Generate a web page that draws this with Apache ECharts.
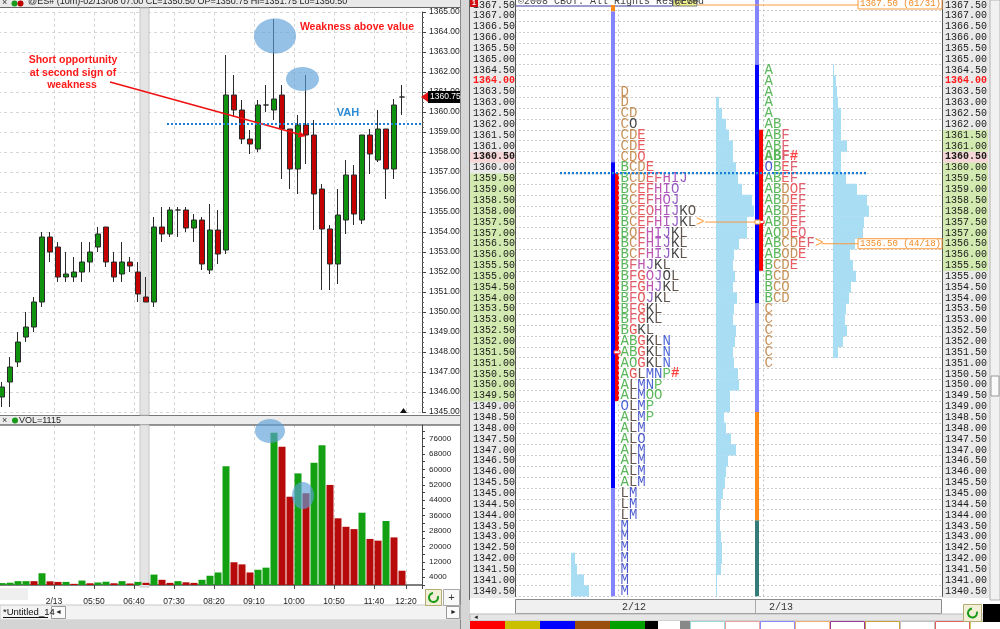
<!DOCTYPE html>
<html>
<head>
<meta charset="utf-8">
<script src="https://cdn.jsdelivr.net/npm/echarts@6/dist/echarts.min.js"></script>
<style>
html,body{margin:0;padding:0;background:#ffffff;overflow:hidden;}
#c{width:1000px;height:629px;}
</style>
</head>
<body>
<div id="c"></div>
<script>
// ================= DATA =================
// 10-minute bars, 2/13/08
const times = ['04:00','04:10','04:20','04:30','04:40','04:50','05:00','05:10','05:20','05:30','05:40','05:50',
  '06:00','06:10','06:20','06:30','06:40','06:50','07:00','07:10','07:20','07:30','07:40','07:50',
  '08:00','08:10','08:20','08:30','08:40','08:50','09:00','09:10','09:20','09:30','09:40','09:50',
  '10:00','10:10','10:20','10:30','10:40','10:50','11:00','11:10','11:20','11:30','11:40','11:50',
  '12:00','12:10','12:20'];
const tickTimes = ['05:00','05:50','06:40','07:30','08:20','09:10','10:00','10:50','11:40','12:20'];
const tickTexts = ['2/13','05:50','06:40','07:30','08:20','09:10','10:00','10:50','11:40','12:20'];

const opens  = [1345.75,1346.5,1347.5,1348.75,1349.25,1350.5,1353.75,1353.25,1351.75,1351.75,1352.0,1352.5,1353.25,1354.25,1352.5,1351.9,1352.5,1352.0,1350.75,1350.5,1354.25,1353.9,1355.1,1355.1,1354.2,1354.6,1352.1,1354.1,1353.1,1360.85,1360.1,1358.65,1358.15,1360.35,1360.1,1360.85,1359.15,1357.15,1359.35,1358.85,1356.15,1354.15,1352.4,1354.6,1356.85,1354.6,1358.85,1357.6,1359.15,1357.15,1360.75];
const closes = [1346.25,1347.25,1348.5,1349.25,1350.5,1353.75,1353.0,1351.75,1351.9,1352.0,1352.5,1353.0,1353.9,1352.5,1351.75,1352.5,1352.3,1350.9,1350.5,1354.25,1353.9,1355.1,1355.1,1354.2,1354.6,1352.4,1354.1,1352.9,1360.85,1360.1,1358.65,1358.4,1360.35,1360.35,1360.65,1359.15,1357.15,1359.35,1358.85,1355.9,1354.15,1352.4,1354.85,1356.85,1354.9,1358.85,1357.9,1359.15,1357.15,1360.35,1360.75];
const lows   = [1345.25,1345.25,1347.25,1348.5,1349.0,1350.25,1352.5,1351.5,1351.5,1351.5,1351.5,1352.0,1353.0,1352.25,1351.5,1351.5,1352.0,1350.5,1350.5,1350.25,1353.5,1353.75,1353.75,1354.0,1353.5,1352.1,1351.9,1352.4,1352.9,1359.75,1358.4,1357.9,1358.0,1360.0,1359.6,1356.65,1356.15,1355.9,1357.4,1354.1,1351.1,1351.1,1351.4,1353.9,1354.35,1354.4,1356.9,1357.5,1355.65,1356.65,1359.85];
const highs  = [1346.5,1347.75,1349.0,1350.0,1350.75,1354.0,1354.0,1353.5,1353.0,1352.75,1353.5,1353.5,1354.25,1354.25,1353.0,1353.5,1352.75,1352.5,1351.75,1354.75,1355.25,1355.25,1355.25,1355.25,1354.9,1354.75,1355.4,1355.1,1362.85,1361.85,1360.6,1359.1,1360.6,1361.35,1364.65,1361.35,1359.15,1359.85,1361.85,1359.6,1356.4,1354.35,1356.15,1357.6,1357.35,1358.85,1359.15,1360.1,1359.15,1360.65,1361.35];
const volumes = [1000,1200,2000,2000,2000,6100,1900,1600,1600,600,2300,900,1300,1700,900,2000,800,1600,1115,5400,
  2700,1100,2000,1400,1100,2700,4800,6500,61600,11800,10700,6500,7900,9000,79000,71700,45800,57900,47600,63400,
  72500,51900,34600,30200,29000,37500,23900,23000,33200,24700,7400];
const volumeUp = [1,1,1,1,0,1,0,0,1,0,1,0,1,1,0,1,0,1,0,1,0,0,1,0,0,1,1,1,1,0,0,0,1,1,1,0,0,1,0,1,1,0,0,0,0,1,0,0,1,0,0];
const cursorIndex = 18;
const vahLeft = 1359.4;

// ---- market profile ----
const rowPrices = ['1340.50','1341.00','1341.50','1342.00','1342.50','1343.00','1343.50','1344.00','1344.50','1345.00',
  '1345.50','1346.00','1346.50','1347.00','1347.50','1348.00','1348.50','1349.00','1349.50','1350.00',
  '1350.50','1351.00','1351.50','1352.00','1352.50','1353.00','1353.50','1354.00','1354.50','1355.00',
  '1355.50','1356.00','1356.50','1357.00','1357.50','1358.00','1358.50','1359.00','1359.50','1360.00',
  '1360.50','1361.00','1361.50','1362.00','1362.50','1363.00','1363.50','1364.00','1364.50','1365.00',
  '1365.50','1366.00','1366.50','1367.00','1367.50'];
// lowercase letter = opening "O" of that period
const tpo212 = [[1363.5,'D'],[1363.0,'D'],[1362.5,'CD'],[1362.0,'Ck'],[1361.5,'CDE'],[1361.0,'CDE'],[1360.5,'CDe'],
  [1360.0,'BCDE'],[1359.5,'BCDEFHIJ'],[1359.0,'BCEFHIj'],[1358.5,'BCEFHiJ'],[1358.0,'BCEfHIJKl'],[1357.5,'BCEFHIJKL>'],
  [1357.0,'BcFHIJKL'],[1356.5,'BCFHIJKL'],[1356.0,'BCFHIJKL'],[1355.5,'BFHJKL'],[1355.0,'BFGhJkL'],[1354.5,'BFGHJKL'],
  [1354.0,'BFgJKL'],[1353.5,'BFGKL'],[1353.0,'BFGKL'],[1352.5,'BGKL'],[1352.0,'ABGKLN'],[1351.5,'ABGKLN'],[1351.0,'AbGKLN'],
  [1350.5,'AGLMNP#'],[1350.0,'ALMNP'],[1349.5,'ALMOO'],[1349.0,'nLMP'],[1348.5,'ALMP'],[1348.0,'ALM'],[1347.5,'ALm'],
  [1347.0,'ALM'],[1346.5,'ALM'],[1346.0,'ALM'],[1345.5,'ALM'],[1345.0,'LM'],[1344.5,'LM'],[1344.0,'LM'],[1343.5,'M'],
  [1343.0,'M'],[1342.5,'M'],[1342.0,'M'],[1341.5,'M'],[1341.0,'M'],[1340.5,'M']];
const tpo213 = [[1364.5,'A'],[1364.0,'A'],[1363.5,'A'],[1363.0,'A'],[1362.5,'A'],[1362.0,'AB'],[1361.5,'ABF'],[1361.0,'ABF'],
  [1360.5,'ABF#'],[1360.0,'mBEF'],[1359.5,'ABEF'],[1359.0,'ABDeF'],[1358.5,'ABDEF'],[1358.0,'ABDEF'],[1357.5,'ABDEF'],
  [1357.0,'AbDEf'],[1356.5,'ABCDEF>'],[1356.0,'ABcDE'],[1355.5,'BCDE'],[1355.0,'BCD'],[1354.5,'BCd'],[1354.0,'BCD'],
  [1353.5,'C'],[1353.0,'C'],[1352.5,'C'],[1352.0,'C'],[1351.5,'C'],[1351.0,'C']];
const hist212 = [[1363.0,3],[1362.5,6],[1362.0,10],[1361.5,13],[1361.0,17],[1360.5,17],[1360.0,20],[1359.5,22],[1359.0,26],
  [1358.5,36],[1358.0,38],[1357.5,31],[1357.0,31],[1356.5,23],[1356.0,18],[1355.5,17],[1355.0,19],[1354.5,17],[1354.0,21],
  [1353.5,18],[1353.0,17],[1352.5,20],[1352.0,19],[1351.5,17],[1351.0,18],[1350.5,22],[1350.0,23],[1349.5,14],[1349.0,14],
  [1348.5,8],[1348.0,10],[1347.5,15],[1347.0,20],[1346.5,12],[1346.0,10],[1345.5,9],[1345.0,7],[1344.5,5],[1344.0,4],
  [1343.5,4],[1343.0,5],[1342.5,6],[1342.0,6],[1341.5,5],[1341.0,1],[1340.5,1]];
const hist213 = [[1364.5,1],[1364.0,3],[1363.5,4],[1363.0,5],[1362.5,8],[1362.0,8],[1361.5,8],[1361.0,14],[1360.5,8],
  [1360.0,8],[1359.5,13],[1359.0,24],[1358.5,34],[1358.0,36],[1357.5,31],[1357.0,30],[1356.5,22],[1356.0,17],[1355.5,20],
  [1355.0,23],[1354.5,18],[1354.0,16],[1353.5,13],[1353.0,12],[1352.5,14],[1352.0,10],[1351.5,5]];
const histPrev = [[1342.0,4],[1341.5,6],[1341.0,13],[1340.5,18]];
const dayRange212 = [[1367.5,1367.2],[1367.2,1360.25],[1360.25,1345.25],[1345.25,1340.25]];
const dayRange213 = [[1367.75,1364.75],[1364.75,1353.75],[1353.75,1348.75],[1348.75,1343.75],[1343.75,1340.25]];
const valueArea212 = [1349.5,1359.5];
const valueArea213 = [1355.5,1361.5];
const openMark212 = 1351.5, openMark213 = 1357.5;
const currentRow = 1360.5, highlightRow = 1364.0;
const vahRight = 1359.75;
const poc212 = 1357.5, poc213 = 1356.5, refHigh = 1367.5;
const pocLabel213 = '1356.50 (44/18)', refLabel = '1367.50 (01/31)';
const dayLabels = ['2/12','2/13'];

// ================= STYLE / LAYOUT =================
const rangeColors212 = ['#ff8c1a','#8484ff','#0000ff','#8484ff'];
const rangeColors213 = ['#8484ff','#0000ff','#8484ff','#ff8c1a','#357b79'];
const periodColors = {A:'#2fa52f',B:'#2fa52f',C:'#b8742c',D:'#b8742c',E:'#e5343c',F:'#d83a4c',G:'#e02828',H:'#b0309e',
  I:'#9a30b0',J:'#7c34b4',K:'#141414',L:'#3b2c22',M:'#2233c4',N:'#2040cc',O:'#2fa52f',P:'#3fae3f'};
const col212 = {bar:96, va:100, letters:105, hist:201, vline:103};
const col213 = {bar:240, va:244, letters:249, hist:318, vline:248};
const colPrev = {hist:56};
const mono = 'Liberation Mono';
const sans = 'Liberation Sans';
const histColor = '#a8ddf3';

const xCats = times.concat(['','']);
const splitFn = function(idx){ return idx > 0 && tickTimes.indexOf(xCats[idx-1]) >= 0; };
const labelFn = function(idx, val){ return tickTimes.indexOf(val) >= 0; };

const tpoRich = {};
Object.keys(periodColors).forEach(function(k){
  tpoRich[k] = {color:periodColors[k], fontFamily:mono, fontSize:14};
  tpoRich[k+'b'] = {color:periodColors[k], fontFamily:mono, fontSize:14, fontWeight:'bold'};
});
tpoRich.hash = {color:'#ff1010', fontFamily:mono, fontSize:14, fontWeight:'bold'};
tpoRich.arr = {color:'#ff8c1a', fontFamily:mono, fontSize:14};
function richify(s, bold){
  const b = bold ? 'b' : '';
  let out = '';
  for (const ch of s){
    if (ch === '#') out += '{hash|#}';
    else if (ch === '>') out += '{arr|>}';
    else if (ch >= 'a' && ch <= 'z') out += '{' + ch.toUpperCase() + b + '|O}';
    else out += '{' + ch + b + '|' + ch + '}';
  }
  return out;
}

const cellBase = {fontFamily:mono, fontSize:10, color:'#1a1a1a', width:43, height:11, lineHeight:11, padding:[0,0,0,2]};
const axisRich = {
  n: Object.assign({}, cellBase, {backgroundColor:'#e9e9e9'}),
  g: Object.assign({}, cellBase, {backgroundColor:'#d2eab0'}),
  p: Object.assign({}, cellBase, {backgroundColor:'#f6d6d6', fontWeight:'bold'}),
  r: Object.assign({}, cellBase, {backgroundColor:'#e9e9e9', color:'#ff1a1a', fontWeight:'bold'})
};
function axisFmt(va){
  return function(v){
    const p = parseFloat(v);
    let k = 'n';
    if (p === currentRow) k = 'p';
    else if (p >= va[0] && p <= va[1]) k = 'g';
    else if (p === highlightRow) k = 'r';
    return '{' + k + '|' + v + '}';
  };
}

function rectFrom(api, x0, x1, pHi, pLo){
  const a = api.coord([x0, pHi]);
  const b = api.coord([x1, pLo]);
  return {x:a[0], y:a[1], width:b[0]-a[0], height:b[1]-a[1]};
}
function histSeries(data, x0){
  return {type:'custom', xAxisIndex:2, yAxisIndex:4, clip:true, silent:true, data:data, z:2,
    renderItem:function(params, api){
      const p = api.value(0), w = api.value(1);
      return {type:'rect', shape:rectFrom(api, x0, x0 + w, p + 0.26, p - 0.26), style:{fill:histColor}};
    }};
}
function rangeSeries(data, x0, colors){
  return {type:'custom', xAxisIndex:2, yAxisIndex:4, clip:true, silent:true, data:data, z:3,
    renderItem:function(params, api){
      return {type:'rect', shape:rectFrom(api, x0, x0 + 4, api.value(0), api.value(1)), style:{fill:colors[params.dataIndex]}};
    }};
}
function vaSeries(va, x0, openMark){
  return {type:'custom', xAxisIndex:2, yAxisIndex:4, clip:true, silent:true, data:[[va[0], va[1], openMark]], z:4,
    renderItem:function(params, api){
      const lo = api.value(0), hi = api.value(1), om = api.value(2);
      return {type:'group', children:[
        {type:'rect', shape:rectFrom(api, x0, x0 + 4, hi + 0.25, lo - 0.25), style:{fill:'#ff0000'}},
        {type:'rect', shape:rectFrom(api, x0 - 1, x0 + 5, om + 0.07, om - 0.07), style:{fill:'#ffffff', stroke:'#ff2020', lineWidth:1}}
      ]};
    }};
}
function tpoSeries(rows, x0, boldPrice){
  return {type:'scatter', xAxisIndex:2, yAxisIndex:4, symbolSize:1, silent:true, z:5,
    itemStyle:{color:'rgba(0,0,0,0)'},
    data: rows.map(function(r){ return [x0, r[0], r[1]]; }),
    label:{show:true, position:'right', distance:0, fontFamily:mono, fontSize:14,
      formatter:function(p){ return richify(p.data[2], p.data[1] === boldPrice); }, rich:tpoRich}};
}
function hLine(x0, x1, price, color, width, dash){
  return {type:'line', xAxisIndex:2, yAxisIndex:4, silent:true, symbol:'none', z:6,
    data:[[x0, price],[x1, price]], lineStyle:{color:color, width:width, type:dash || 'solid'}};
}

const chart = echarts.init(document.getElementById('c'), null, {renderer:'canvas', width:1000, height:629});

const option = {
  animation:false,
  backgroundColor:'#ffffff',
  grid:[
    {left:-2, top:12, width:424, height:400, outerBoundsMode:'none'},
    {left:-2, top:425, width:424, height:160, outerBoundsMode:'none'},
    {left:515, top:-0.43, width:427, height:596.85, outerBoundsMode:'none'}
  ],
  xAxis:[
    {type:'category', gridIndex:0, data:xCats, boundaryGap:true,
      axisLine:{show:false}, axisTick:{show:false}, axisLabel:{show:false},
      splitLine:{show:true, interval:splitFn, lineStyle:{color:'#d6d6d6', type:[3,3]}}},
    {type:'category', gridIndex:1, data:xCats, boundaryGap:true,
      axisLine:{show:true, lineStyle:{color:'#555', width:1.5}},
      axisTick:{show:true, interval:splitFn, length:4, lineStyle:{color:'#444'}},
      axisLabel:{interval:labelFn, fontSize:8.5, fontFamily:sans, color:'#222', margin:12, padding:[0,0,0,8],
        formatter:function(v){ const i = tickTimes.indexOf(v); return i >= 0 ? tickTexts[i] : ''; }},
      splitLine:{show:true, interval:splitFn, lineStyle:{color:'#d6d6d6', type:[3,3]}}},
    {type:'value', gridIndex:2, min:0, max:427, show:false}
  ],
  yAxis:[
    {type:'value', gridIndex:0, position:'right', min:1345, max:1365, interval:1,
      axisLine:{show:true, lineStyle:{color:'#444'}},
      axisTick:{show:true, length:4, lineStyle:{color:'#444'}},
      minorTick:{show:true, splitNumber:4, length:2, lineStyle:{color:'#666'}},
      axisLabel:{fontSize:8.5, fontFamily:sans, color:'#222', margin:7, formatter:function(v){ return v.toFixed(2); }},
      splitLine:{show:true, lineStyle:{color:'#d6d6d6', type:[3,3]}}},
    {type:'value', gridIndex:1, position:'right', min:0, max:83000, interval:4000,
      axisLine:{show:true, lineStyle:{color:'#444'}},
      axisTick:{show:true, length:3, lineStyle:{color:'#444'}},
      axisLabel:{fontSize:8, fontFamily:sans, color:'#222', margin:7, showMaxLabel:false,
        formatter:function(v){ return (Math.round(v/4000) % 2 === 1) ? String(v) : ''; }},
      splitLine:{show:false}},
    {type:'category', gridIndex:2, position:'left', data:rowPrices, boundaryGap:true,
      axisLine:{show:true, lineStyle:{color:'#555'}}, axisTick:{show:false},
      axisLabel:{interval:0, margin:0, formatter:axisFmt(valueArea212), rich:axisRich},
      splitLine:{show:true, interval:0, lineStyle:{color:'#cdcdcd', type:[2,2]}}},
    {type:'category', gridIndex:2, position:'right', data:rowPrices, boundaryGap:true,
      axisLine:{show:true, lineStyle:{color:'#555'}}, axisTick:{show:false},
      axisLabel:{interval:0, margin:1, formatter:axisFmt(valueArea213), rich:axisRich},
      splitLine:{show:false}},
    {type:'value', gridIndex:2, min:1340.25, max:1367.75, show:false}
  ],
  series:[
    {type:'candlestick', xAxisIndex:0, yAxisIndex:0, barWidth:6, z:3,
      data: opens.map(function(o, i){ return [o, closes[i], lows[i], highs[i]]; }),
      itemStyle:{color:'#0f930f', color0:'#c40000', borderColor:'#2a2a2a', borderColor0:'#2a2a2a', borderWidth:1}},
    {type:'bar', xAxisIndex:1, yAxisIndex:1, barWidth:7, z:3,
      data: volumes.map(function(v, i){ return {value:v, itemStyle:{color: volumeUp[i] ? '#13a013' : '#b70b0b'}}; })},
    histSeries(histPrev, colPrev.hist),
    histSeries(hist212, col212.hist),
    histSeries(hist213, col213.hist),
    rangeSeries(dayRange212, col212.bar, rangeColors212),
    rangeSeries(dayRange213, col213.bar, rangeColors213),
    vaSeries(valueArea212, col212.va, openMark212),
    vaSeries(valueArea213, col213.va, openMark213),
    Object.assign(tpoSeries(tpo212, col212.letters, null), {
      markLine:{symbol:'none', silent:true, label:{show:false}, lineStyle:{type:[2,3], color:'#c4c4c4', width:1},
        data:[{xAxis:col212.vline},{xAxis:col213.vline}]}}),
    tpoSeries(tpo213, col213.letters, currentRow),
    hLine(45, 353, vahRight, '#1a7fd4', 2.2, [2,2]),
    hLine(190, 241, poc212, '#ff9a3c', 1),
    hLine(307, 343, poc213, '#ff9a3c', 1),
    hLine(183, 343, refHigh, '#ff9a3c', 1)
  ]
};
chart.setOption(option);

// ================= DECORATION / ANNOTATIONS =================
function R(x,y,w,h,fill,stroke,z){ return {type:'rect', silent:true, z:z===undefined?-1:z, shape:{x:x,y:y,width:w,height:h}, style:{fill:fill||'none', stroke:stroke||null, lineWidth:1}}; }
function T(x,y,txt,font,fill,align,z){ return {type:'text', silent:true, z:z===undefined?50:z, x:x, y:y,
  style:{text:txt, font:font, fill:fill, textAlign:align||'left', align:align||'left', textVerticalAlign:'middle', verticalAlign:'middle'}}; }
function L(x1,y1,x2,y2,stroke,w,dash,z){ return {type:'line', silent:true, z:z===undefined?-1:z, shape:{x1:x1,y1:y1,x2:x2,y2:y2}, style:{stroke:stroke, lineWidth:w||1, lineDash:dash||null}}; }
function E(cx,cy,rx,ry,fill){ return {type:'ellipse', silent:true, z:100, shape:{cx:cx,cy:cy,rx:rx,ry:ry}, style:{fill:fill}}; }
function C(cx,cy,r,fill,z){ return {type:'circle', silent:true, z:z===undefined?50:z, shape:{cx:cx,cy:cy,r:r}, style:{fill:fill}}; }

const yVahL = chart.convertToPixel({yAxisIndex:0}, vahLeft);
const yLast = chart.convertToPixel({yAxisIndex:0}, closes[closes.length-1]);
const yPoc213 = chart.convertToPixel({yAxisIndex:4}, poc213);
const yRef = chart.convertToPixel({yAxisIndex:4}, refHigh);
const xBox = chart.convertToPixel({xAxisIndex:2}, 343);
const xDay212 = chart.convertToPixel({xAxisIndex:2}, col212.letters);
const xDay213 = chart.convertToPixel({xAxisIndex:2}, col213.letters);
const yPoc212 = chart.convertToPixel({yAxisIndex:4}, poc212);
const xMk = chart.convertToPixel({xAxisIndex:2}, col213.bar);

const headerText = '@ES# (10m)-02/13/08 ' + times[cursorIndex] + ' CL=' + closes[cursorIndex].toFixed(2) +
  ' OP=' + opens[cursorIndex].toFixed(2) + ' Hi=' + highs[cursorIndex].toFixed(2) + ' Lo=' + lows[cursorIndex].toFixed(2);

const g = [];
// left header
g.push(R(0,0,460,8,'#e9e9e9'));
g.push(L(0,7.5,460,7.5,'#666'));
g.push(T(2,2.5,'×','9px "'+sans+'"','#333'));
g.push(C(14.5,3.5,3,'#1a9a1a'));
g.push(C(20.5,3.5,3,'#c00000'));
g.push(T(28,1.5,headerText,'9px "'+sans+'"','#222'));
// VOL header
g.push(R(0,415,460,10,'#ececec',null,0));
g.push(L(0,415.5,460,415.5,'#777',1,null,0));
g.push(L(0,425,460,425,'#333',1,null,0));
g.push(T(2,420.5,'×','9px "'+sans+'"','#333'));
g.push(C(15,420.5,3,'#1a9a1a'));
g.push(T(19,420.5,'VOL=' + volumes[cursorIndex],'9px "'+sans+'"','#222'));
// cursor band
g.push(R(140,8,9,407,'#e4e4e4','#c6c6c6',1));
g.push(R(140,425,9,162,'#e4e4e4','#c6c6c6',1));
// triangle marker bottom price panel
g.push({type:'polygon', silent:true, z:50, shape:{points:[[400,413],[403.5,408],[407,413]]}, style:{fill:'#111'}});
// panel divider and label columns
g.push(R(460,0,10,629,'#d6d6d6'));
g.push(L(460.5,0,460.5,629,'#888'));
g.push(L(469.5,0,469.5,600,'#666'));
g.push(R(470,0,45,598,'#e9e9e9'));
g.push(R(942,0,48,598,'#e9e9e9'));
g.push(R(990,0,10,600,'#f1f1f1','#b5b5b5'));
g.push(R(991,376,8,20,'#fafafa','#999',0));
g.push(R(470,0,8,7,'#d01010',null,60));
g.push(T(472,3.5,'1','bold 7px "'+sans+'"','#fff','left',61));
// copyright header on profile
g.push(R(515.5,-6,157,12,'#ffffff','#3b3b9b',0));
g.push(T(518,1,'©2008 CBOT. All Rights Reserved','10px "'+mono+'"','#444'));
g.push(R(673,-6,24,12,'#f2f28a','#777',0));
g.push(T(675,1,'@ES#','10px "'+mono+'"','#444'));
// orange reference boxes
g.push(R(xBox,yRef-7,84,11,'#ffffff','#ff9a3c',60));
g.push(T(xBox+2,yRef-1.5,refLabel,'9px "'+mono+'"','#f08a24','left',61));
g.push(R(xBox,yPoc213-5,84,10,'#ffffff','#ff9a3c',60));
g.push(T(xBox+2,yPoc213,pocLabel213,'9px "'+mono+'"','#f08a24','left',61));
g.push(R(xMk,yPoc212-2,5,4,'#ffffff','#ff9a3c',60));
// bottom left
g.push(R(0,588,28,12,'#efefef'));
g.push(R(0,605,460,15,'#f3f3f3','#c8c8c8'));
g.push(T(3,612,'*Untitled_14','9.5px "'+sans+'"','#111'));
g.push(L(3,617.5,48,617.5,'#111',1,null,0));
g.push(R(51.5,606.5,14,12,'#fafafa','#999',0));
g.push(T(55,612.5,'◄','7px "'+sans+'"','#222'));
g.push(R(446.5,606.5,13,12,'#fafafa','#999',0));
g.push(T(450,612.5,'►','7px "'+sans+'"','#222'));
g.push(R(0,620,460,9,'#d4d4d4'));
g.push(R(425.5,589.5,16,16,'#f3efd6','#b4ac74',0));
g.push({type:'arc', silent:true, z:50, shape:{cx:433.5,cy:597.5,r:4.5,startAngle:-0.3,endAngle:4.6}, style:{stroke:'#1a9a1a', lineWidth:2, fill:'none'}});
g.push(R(443.5,589.5,16,16,'#f8f8f8','#aaa',0));
g.push(T(451.5,597.5,'+','11px "'+sans+'"','#333','center'));
// bottom right
g.push(R(515.5,599.5,426,14,'#f0f0f0','#8c8c8c',0));
g.push(L(755.5,600,755.5,613,'#aaa',1,null,0));
g.push(T(xDay212+2,607,dayLabels[0],'10px "'+mono+'"','#333'));
g.push(T(xDay213+5,607,dayLabels[1],'10px "'+mono+'"','#333'));
g.push(R(470,614,520,7,'#e6e6e6','#bbb',0));
g.push(T(473,617.5,'◄','6px "'+sans+'"','#222'));
const solid = [[470,35,'#ff0000'],[505,35,'#c8c000'],[540,35,'#0000ff'],[575,35,'#9b4f0f'],[610,35,'#00a000'],[645,13,'#000000'],[658,22,'#ffffff'],[680,10,'#888888']];
solid.forEach(function(s){ g.push(R(s[0],621,s[1],8,s[2],null,0)); });
const outl = ['#9ad7d7','#e8a0a0','#8a8aff','#f0b070','#9b3b9b','#c8a040','#c0c0c0','#e06060','#d0d060'];
outl.forEach(function(c, i){ g.push(R(690.5 + i*35,621.5,34,8,'#ffffff',c,0)); });
g.push(R(963.5,604.5,18,17,'#f3efd6','#b4ac74',0));
g.push({type:'arc', silent:true, z:50, shape:{cx:972.5,cy:613,r:4.5,startAngle:-0.3,endAngle:4.6}, style:{stroke:'#1a9a1a', lineWidth:2, fill:'none'}});
g.push(R(983,604,17,18,'#000000',null,0));
// annotations
g.push(E(275,36,21,17.5,'rgba(90,160,215,0.65)'));
g.push(E(302.5,79,16.5,12,'rgba(90,160,215,0.65)'));
g.push(E(270,431,15,12,'rgba(90,160,215,0.65)'));
g.push(E(303,495.5,11,13.5,'rgba(90,160,215,0.65)'));
g.push(T(357,27.5,'Weakness above value','bold 10.5px "'+sans+'"','#ff1a1a','center',101));
g.push(T(73,60,'Short opportunity','bold 10.5px "'+sans+'"','#ff1a1a','center',101));
g.push(T(73,73,'at second sign of','bold 10.5px "'+sans+'"','#ff1a1a','center',101));
g.push(T(72,85.5,'weakness','bold 10.5px "'+sans+'"','#ff1a1a','center',101));
g.push(L(110,82,302,135,'#f01010',1.5,null,101));
g.push({type:'polygon', silent:true, z:101, shape:{points:[[306,136.2],[299.5,131.3],[297.8,137.4]]}, style:{fill:'#f01010'}});
g.push(T(348,112.5,'VAH','bold 11px "'+sans+'"','#2b8bd6','center',101));
g.push(L(167,yVahL,423,yVahL,'#1a7fd4',2.2,[2,2],101));
// last price tag
g.push({type:'polygon', silent:true, z:102, shape:{points:[[421,yLast],[428,yLast-5],[428,yLast+5]]}, style:{fill:'#e01010'}});
g.push(R(428,yLast-6,32,12,'#000000',null,102));
g.push(T(430,yLast,closes[closes.length-1].toFixed(2),'8.5px "'+sans+'"','#ffffff','left',103));

chart.setOption({graphic:{elements:g}});
</script>
</body>
</html>
